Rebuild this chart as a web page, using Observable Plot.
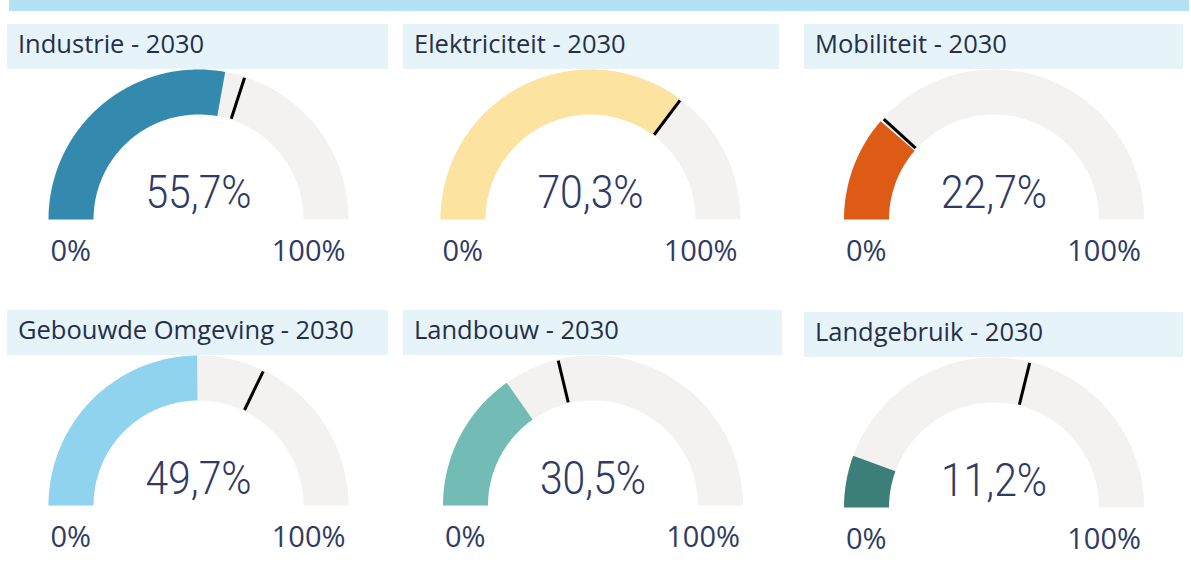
<!DOCTYPE html>
<html><head><meta charset="utf-8">
<script src="https://cdn.jsdelivr.net/npm/d3@7"></script>
<script src="https://cdn.jsdelivr.net/npm/@observablehq/plot@0.6"></script>
<style>
html,body{margin:0;padding:0;background:#fff}
body{width:1191px;height:562px;position:relative;overflow:hidden;font-family:"Open Sans",sans-serif}
#banner{position:absolute;left:9px;top:0;width:1180px;height:11px;background:#b3e2f4}
.panel{position:absolute}
.title{height:45px;background:#e6f4fa;color:#252f4a;font-size:25.5px;line-height:38px;padding-left:11px;box-sizing:border-box;white-space:nowrap;font-family:"Open Sans",sans-serif}
.panel svg{display:block;overflow:visible}
</style></head><body>
<div id="banner"></div>
<script>
// ---- data ----
const categories = ["Industrie", "Elektriciteit", "Mobiliteit", "Gebouwde Omgeving", "Landbouw", "Landgebruik"];
const year = "2030";
const values = [55.7, 70.3, 22.7, 49.7, 30.5, 11.2];
const targets = [60.0, 70.5, 23.5, 64.3, 42.5, 57.7];
const colors = ["#3389ae", "#fde3a0", "#dd5b14", "#8fd3ef", "#72bcb5", "#3c7e78"];
const scaleMin = 0, scaleMax = 100;
const minLabel = "0%", maxLabel = "100%";

// ---- layout ----
const layout = [
  {left: 7,   top: 24,  width: 381, cx: 191},
  {left: 403, top: 24,  width: 376, cx: 187},
  {left: 804, top: 24,  width: 379, cx: 189.5},
  {left: 7,   top: 310, width: 381, cx: 191},
  {left: 403, top: 310, width: 379, cx: 189.5},
  {left: 804, top: 312, width: 379, cx: 189.5}
];
const R = 150, r = 105, H = 205, CY = 150;
const trackColor = "#f3f2f1";
const textColor = "#2f3b64";

const frac = v => (v - scaleMin) / (scaleMax - scaleMin);
function arcPoly(f0, f1, r0, r1) {
  const n = Math.max(2, Math.ceil((f1 - f0) * 180));
  const pts = [];
  for (let i = 0; i <= n; i++) {
    const th = Math.PI * (1 - (f0 + (f1 - f0) * i / n));
    pts.push({x: r1 * Math.cos(th), y: r1 * Math.sin(th)});
  }
  for (let i = n; i >= 0; i--) {
    const th = Math.PI * (1 - (f0 + (f1 - f0) * i / n));
    pts.push({x: r0 * Math.cos(th), y: r0 * Math.sin(th)});
  }
  return pts;
}
const fmt = v => v.toFixed(1).replace(".", ",") + "%";

categories.forEach((cat, i) => {
  const L = layout[i];
  const panel = document.createElement("div");
  panel.className = "panel";
  panel.style.left = L.left + "px";
  panel.style.top = L.top + "px";
  panel.style.width = L.width + "px";
  const title = document.createElement("div");
  title.className = "title";
  title.textContent = `${cat} - ${year}`;
  panel.appendChild(title);

  const v = values[i], t = targets[i];
  const th = Math.PI * (1 - frac(t));
  const marker = [{x1: 106 * Math.cos(th), y1: 106 * Math.sin(th), x2: 149 * Math.cos(th), y2: 149 * Math.sin(th)}];

  const svg = Plot.plot({
    width: L.width,
    height: H,
    margin: 0,
    style: {background: "transparent", overflow: "visible"},
    x: {domain: [-L.cx, L.width - L.cx], range: [0, L.width], axis: null},
    y: {domain: [-(H - CY), CY], range: [H, 0], axis: null},
    marks: [
      Plot.line(arcPoly(0, 1, r, R), {x: "x", y: "y", fill: trackColor, stroke: "none"}),
      Plot.line(arcPoly(0, frac(v), r, R), {x: "x", y: "y", fill: colors[i], stroke: "none"}),
      Plot.link(marker, {x1: "x1", y1: "y1", x2: "x2", y2: "y2", stroke: "#000", strokeWidth: 3}),
      Plot.text([v], {x: () => 0, y: () => 12, text: d => fmt(d), fontSize: 47, fontFamily: "Roboto", fontWeight: 300, fill: textColor, lineAnchor: "bottom", textAnchor: "middle"}),
      Plot.text([minLabel], {x: () => -R + 2, y: () => -41, text: d => d, fontSize: 29, fontFamily: "Open Sans", fill: textColor, textAnchor: "start", lineAnchor: "bottom"}),
      Plot.text([maxLabel], {x: () => R - 3, y: () => -41, text: d => d, fontSize: 29, fontFamily: "Open Sans", fill: textColor, textAnchor: "end", lineAnchor: "bottom"})
    ]
  });
  d3.select(svg).selectAll("text").filter(function() { return this.textContent.includes(","); })
    .each(function() {
      const tr = this.getAttribute("transform") || "";
      this.setAttribute("transform", tr + " scale(0.87,1)");
    });
  panel.appendChild(svg);
  document.body.appendChild(panel);
});
</script>
</body></html>
